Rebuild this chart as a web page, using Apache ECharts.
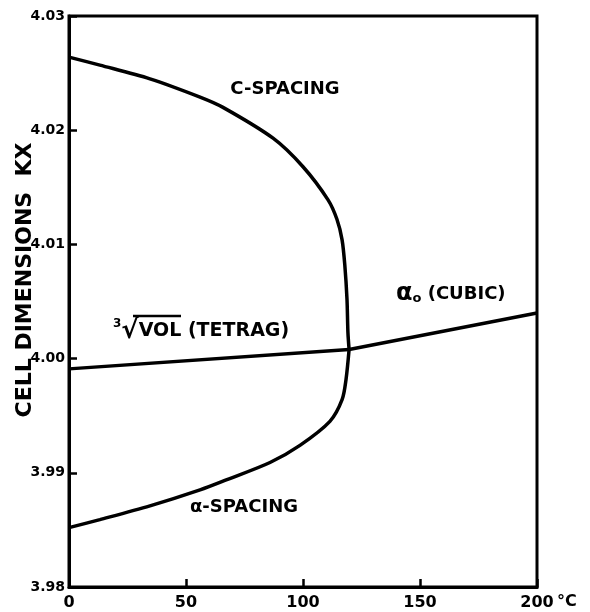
<!DOCTYPE html>
<html>
<head>
<meta charset="utf-8">
<script src="https://cdn.jsdelivr.net/npm/echarts@6/dist/echarts.min.js"></script>
<style>html,body{margin:0;padding:0;background:#fff}#c{width:590px;height:612px}</style>
</head>
<body>
<div id="c"></div>
<script>
// Temperature (°C) axis ticks and cell-dimension (kX) ticks
const xTicks = [0, 50, 100, 150, 200];
const yTicks = [3.98, 3.99, 4.00, 4.01, 4.02, 4.03];

// c-spacing (tetragonal), from 0 °C up to the Curie point
const cSpacingT = [0, 13.2, 34.6, 56.0, 65.8, 87.2, 100, 110.7, 114.5, 116.7, 117.9, 118.8, 119.2, 119.7];
const cSpacingV = [4.0264, 4.0257, 4.0245, 4.0229, 4.0220, 4.0193, 4.0168, 4.0139, 4.0122, 4.0104, 4.0081, 4.0052, 4.0023, 4.0008];

// a-spacing (tetragonal), from the Curie point back down to 0 °C
const aSpacingT = [119.7, 118.4, 116.7, 111.5, 98.7, 85.9, 67.5, 56.0, 34.6, 13.2, 0];
const aSpacingV = [4.0008, 3.9982, 3.9964, 3.9945, 3.9924, 3.9909, 3.9894, 3.9885, 3.9871, 3.9859, 3.9852];

// cube root of volume (tetragonal)
const volT = [0, 119.7];
const volV = [3.9991, 4.0008];

// a0 (cubic)
const cubicT = [119.7, 200];
const cubicV = [4.0008, 4.0040];

const zip = (a, b) => a.map((v, i) => [v, b[i]]);
const FONT = '"DejaVu Sans", sans-serif';
const lineStyle = { color: '#000', width: 3.5 };

const chart = echarts.init(document.getElementById('c'), null, { renderer: 'canvas' });
chart.setOption({
  animation: false,
  backgroundColor: '#fff',
  grid: { left: 69, right: 53, top: 16, bottom: 25, show: true, borderColor: '#000', borderWidth: 3 },
  xAxis: {
    type: 'value', min: xTicks[0], max: xTicks[xTicks.length - 1], interval: 50,
    axisLine: { lineStyle: { color: '#000', width: 3 } },
    axisTick: { inside: true, length: 8, lineStyle: { color: '#000', width: 2.5 } },
    splitLine: { show: false },
    axisLabel: { color: '#000', fontFamily: FONT, fontWeight: 'bold', fontSize: 16, margin: 8,
      formatter: v => String(v) }
  },
  yAxis: {
    type: 'value', min: yTicks[0], max: yTicks[yTicks.length - 1], interval: 0.01,
    axisLine: { lineStyle: { color: '#000', width: 3 } },
    axisTick: { inside: true, length: 8, lineStyle: { color: '#000', width: 2.5 } },
    splitLine: { show: false },
    axisLabel: { color: '#000', fontFamily: FONT, fontWeight: 'bold', fontSize: 14, margin: 4,
      formatter: v => Number(v).toFixed(2) }
  },
  series: [
    { type: 'line', data: zip(cSpacingT, cSpacingV), symbol: 'none', smooth: 0.3, lineStyle },
    { type: 'line', data: zip(aSpacingT, aSpacingV), symbol: 'none', smooth: 0.3, lineStyle },
    { type: 'line', data: zip(volT, volV), symbol: 'none', lineStyle },
    { type: 'line', data: zip(cubicT, cubicV), symbol: 'none', lineStyle }
  ],
  graphic: [
    { type: 'text', left: 557, top: 594, style: { text: '°C', fill: '#000', font: 'bold 16px ' + FONT } },
    { type: 'text', x: 25, y: 280, rotation: Math.PI / 2,
      style: { text: 'CELL DIMENSIONS  KX', fill: '#000', font: 'bold 22px ' + FONT, align: 'center', verticalAlign: 'middle' } },
    { type: 'text', x: 285, y: 89,
      style: { text: 'C-SPACING', fill: '#000', font: 'bold 18px ' + FONT, align: 'center', verticalAlign: 'middle' } },
    { type: 'text', x: 190, y: 507,
      style: { text: 'α-SPACING', fill: '#000', font: 'bold 18px ' + FONT, align: 'left', verticalAlign: 'middle' } },
    { type: 'text', x: 396, y: 294,
      style: { text: '{a|α}{s|o} (CUBIC)', fill: '#000', font: 'bold 18px ' + FONT, align: 'left', verticalAlign: 'middle',
        rich: { a: { font: 'bold 24px ' + FONT, fill: '#000' }, s: { font: 'bold 13px ' + FONT, fill: '#000', padding: [10, 0, 0, 0] } } } },
    { type: 'text', x: 113, y: 331,
      style: { text: '{r|3}{q|√}{v|VOL} (TETRAG)', fill: '#000', font: 'bold 19px ' + FONT, align: 'left', verticalAlign: 'middle',
        rich: { r: { font: 'bold 12px ' + FONT, fill: '#000', padding: [0, 0, 14, 0] },
                q: { font: 'bold 26px ' + FONT, fill: '#000' },
                v: { font: 'bold 19px ' + FONT, fill: '#000' } } } },
    { type: 'line', shape: { x1: 133, y1: 316, x2: 181, y2: 316 }, style: { stroke: '#000', lineWidth: 2.5 } }
  ]
});
</script>
</body>
</html>
